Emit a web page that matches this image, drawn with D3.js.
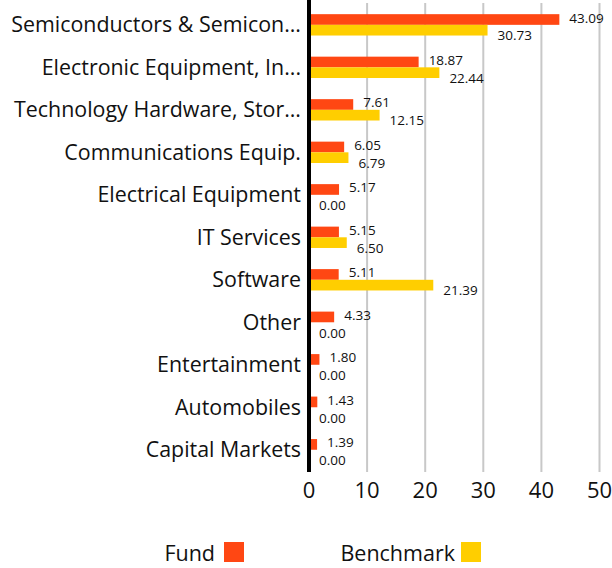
<!DOCTYPE html>
<html><head><meta charset="utf-8">
<script src="https://cdn.jsdelivr.net/npm/d3@7"></script>
<style>body{margin:0;background:#fff}svg{display:block}text{font-family:"Open Sans",sans-serif;fill:#111}</style>
</head><body><svg id="c" width="612" height="568"></svg>
<script>
const categories = ["Semiconductors & Semicon...","Electronic Equipment, In...","Technology Hardware, Stor...","Communications Equip.","Electrical Equipment","IT Services","Software","Other","Entertainment","Automobiles","Capital Markets"];
const fund = [43.09,18.87,7.61,6.05,5.17,5.15,5.11,4.33,1.80,1.43,1.39];
const benchmark = [30.73,22.44,12.15,6.79,0.00,6.50,21.39,0.00,0.00,0.00,0.00];
const ticks = [0,10,20,30,40,50];
const seriesNames = ["Fund","Benchmark"];
const colors = {Fund:"#FF4713", Benchmark:"#FFCE00"};

const svg = d3.select("#c");
const x = d3.scaleLinear().domain([0,50]).range([309,599.5]);
const y = d3.scaleBand().domain(categories).range([3.6,471]).padding(0);
const y1 = d3.scaleBand().domain(seriesNames).range([0,y.bandwidth()]).paddingInner(0).paddingOuter(0.99);

// gridlines
svg.append("g").selectAll("line").data(ticks.filter(t=>t>0)).join("line")
  .attr("x1",d=>x(d)).attr("x2",d=>x(d)).attr("y1",3).attr("y2",472)
  .attr("stroke","#c8c8c8").attr("stroke-width",2);

const rows = categories.map((c,i)=>({c, vals:[{s:"Fund",v:fund[i]},{s:"Benchmark",v:benchmark[i]}]}));
const g = svg.append("g").selectAll("g").data(rows).join("g").attr("transform",d=>`translate(0,${y(d.c)})`);
g.selectAll("rect").data(d=>d.vals).join("rect")
  .attr("x",x(0)).attr("y",d=>y1(d.s)).attr("height",y1.bandwidth())
  .attr("width",d=>x(d.v)-x(0)).attr("fill",d=>colors[d.s]);
g.selectAll("text.v").data(d=>d.vals).join("text").attr("class","v")
  .attr("x",d=>x(d.v)+10)
  .attr("y",d=>y1(d.s)+y1.bandwidth()/2+(d.s==="Fund"?3:10))
  .attr("font-size",13.5).text(d=>d.v.toFixed(2));

// category labels
svg.append("g").selectAll("text").data(categories).join("text")
  .attr("x",301).attr("y",d=>y(d)+y.bandwidth()/2+7.5)
  .attr("text-anchor","end").attr("font-size",21.4).text(d=>d);

// axis line
svg.append("line").attr("x1",x(0)).attr("x2",x(0)).attr("y1",0).attr("y2",472)
  .attr("stroke","#000").attr("stroke-width",4);

// tick labels
svg.append("g").selectAll("text").data(ticks).join("text")
  .attr("x",d=>x(d)).attr("y",498).attr("text-anchor","middle").attr("font-size",22).text(d=>d);

// legend
const leg = [{s:"Fund",tx:215,rx:224},{s:"Benchmark",tx:455,rx:461}];
const lg = svg.append("g").selectAll("g").data(leg).join("g");
lg.append("text").attr("x",d=>d.tx).attr("y",561).attr("text-anchor","end").attr("font-size",21.5).text(d=>d.s);
lg.append("rect").attr("x",d=>d.rx).attr("y",542).attr("width",20).attr("height",20).attr("fill",d=>colors[d.s]);
</script></body></html>
